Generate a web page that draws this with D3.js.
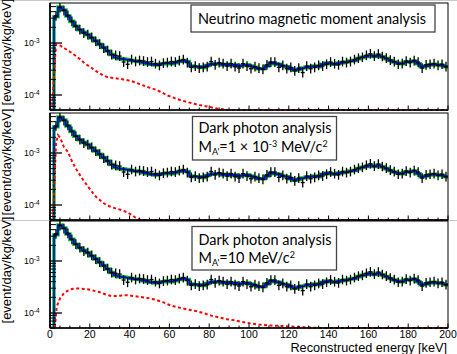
<!DOCTYPE html>
<html><head><meta charset="utf-8">
<script src="https://cdn.jsdelivr.net/npm/d3@7"></script>
<style>body{margin:0;background:#fff}svg{display:block}</style>
</head><body>
<svg id="c" width="457" height="354"></svg>
<script>
// ---------------- data (rates in units of 1e-4 event/day/kg/keV) ----------------
const binWidth = 2;
const binLow = d3.range(0, 200, binWidth);            // bin lower edges [keV]
const background = [
  0.2, 32, 49, 43, 33, 26, 21, 18, 16, 14.5,
  12.5, 11, 9.4, 8.2, 7.0, 6.0, 5.3, 5.0, 4.9, 4.8,
  4.6, 4.5, 4.4, 4.2, 4.0, 3.9, 3.8, 3.9, 4.0, 4.1,
  4.0, 4.2, 4.4, 4.6, 4.4, 3.6, 3.5, 3.5, 3.4, 3.7,
  3.9, 4.0, 4.0, 3.8, 3.9, 3.7, 3.8, 3.6, 3.7, 3.8,
  3.6, 3.4, 3.2, 3.2, 3.6, 4.1, 4.0, 3.9, 3.6, 3.5,
  3.2, 3.0, 3.1, 3.3, 3.4, 3.5, 3.6, 3.5, 3.9, 4.1,
  4.0, 3.9, 4.1, 4.2, 4.3, 4.5, 4.6, 5.0, 5.3, 5.5,
  5.8, 5.5, 5.8, 5.4, 5.0, 4.6, 4.3, 4.1, 4.0, 4.3,
  4.4, 4.5, 4.0, 3.5, 3.6, 3.8, 3.9, 3.8, 3.7, 3.5
];
const observed = [
  0, 33, 48, 42, 34, 26, 21, 18, 15.5, 14.5,
  12.8, 10.8, 9.5, 8.0, 7.1, 6.0, 5.8, 5.6, 4.3, 3.9,
  4.8, 4.4, 4.6, 4.5, 4.3, 4.4, 4.0, 3.7, 4.1, 4.2,
  4.4, 4.3, 4.6, 4.8, 4.2, 3.4, 3.6, 3.3, 3.4, 3.5,
  4.4, 3.8, 4.2, 4.0, 3.6, 4.0, 3.5, 3.3, 4.0, 3.6,
  3.2, 3.5, 3.3, 3.1, 3.8, 4.3, 4.3, 3.4, 3.7, 3.2,
  3.4, 2.9, 3.3, 2.7, 3.6, 3.2, 3.4, 3.7, 3.6, 3.9,
  4.3, 4.0, 3.8, 4.4, 4.2, 4.4, 4.8, 5.1, 5.3, 5.8,
  6.2, 5.6, 6.1, 5.5, 5.1, 4.7, 4.4, 3.9, 4.0, 4.5,
  4.2, 4.6, 4.3, 3.3, 3.8, 3.9, 4.0, 3.7, 3.9, 3.5
];
const relError = 0.24;

// signal curves (energy keV, rate 1e-4)
const sigMuE = [1, 3, 5, 7, 9, 11, 13, 15, 17, 19, 21, 23, 25, 27, 29, 31, 33, 35, 37, 39, 41, 43, 45, 47, 49, 51, 53, 55, 57, 59, 61, 63, 65, 67, 69, 71, 73, 75, 77, 79, 81, 83, 85, 87, 89, 91, 200];
const sigMuV = [0.3, 9.4, 9.0, 8.0, 7.2, 6.4, 5.6, 4.9, 4.2, 3.7, 3.3, 2.9, 2.6, 2.35, 2.2, 2.15, 2.1, 2.05, 1.98, 1.92, 1.85, 1.73, 1.62, 1.52, 1.42, 1.35, 1.27, 1.18, 1.08, 0.98, 0.92, 0.86, 0.81, 0.77, 0.73, 0.70, 0.67, 0.64, 0.62, 0.60, 0.58, 0.56, 0.54, 0.53, 0.52, 0.3, 0.3];
const sigDp1E = [1.5, 3, 4, 5, 7, 9, 11, 13, 15, 17, 19, 21, 23, 25, 27, 29, 31, 33, 35, 37, 39, 41, 43, 45, 47, 200];
const sigDp1V = [0.3, 15, 22, 20, 13, 10.5, 7.0, 5.0, 3.8, 2.9, 2.3, 1.8, 1.45, 1.25, 1.08, 0.97, 0.91, 0.86, 0.82, 0.77, 0.72, 0.65, 0.57, 0.52, 0.3, 0.3];
const sigDp2E = [2.4, 3.4, 5, 7, 9, 11, 13, 15, 17, 19, 21, 23, 25, 27, 29, 31, 33, 35, 37, 39, 41, 43, 45, 49, 53, 57, 61, 65, 69, 73, 77, 81, 85, 89, 93, 97, 101, 105, 109, 113, 117, 121, 125, 129, 133, 137, 200];
const sigDp2V = [0.3, 1.34, 1.9, 2.4, 2.7, 2.9, 2.95, 2.95, 2.9, 2.85, 2.75, 2.62, 2.5, 2.35, 2.2, 2.12, 2.12, 2.15, 2.2, 2.2, 2.15, 2.1, 2.05, 1.95, 1.8, 1.6, 1.38, 1.27, 1.17, 1.1, 1.0, 0.89, 0.82, 0.76, 0.72, 0.67, 0.63, 0.6, 0.58, 0.57, 0.56, 0.55, 0.54, 0.53, 0.52, 0.3, 0.3];

const xTicks = [0, 20, 40, 60, 80, 100, 120, 140, 160, 180, 200];
const yMajorTicks = [1e-3, 1e-4];
const yMajorLabels = [["10", "-3"], ["10", "-4"]];

// ---------------- layout ----------------
const svg = d3.select("#c");
const left = 50, right = 448, panelH = 107;
const yMin = 5.15e-5, yMax = 5.87e-3;
const x = d3.scaleLinear().domain([0, 200]).range([left, right]);
const panels = [
  {top: 3,   sigE: sigMuE,  sigV: sigMuV,  box: {x: 191, y: 5, w: 244, h: 27}},
  {top: 113, sigE: sigDp1E, sigV: sigDp1V, box: {x: 192.5, y: 116.5, w: 144, h: 43.5}},
  {top: 221, sigE: sigDp2E, sigV: sigDp2V, box: {x: 192, y: 226.5, w: 144.5, h: 43.5}}
];

// faint pad borders
[0.5, 220.5].forEach(yy => svg.append("line").attr("x1", 0).attr("x2", 457).attr("y1", yy).attr("y2", yy)
  .attr("stroke", "#c8c8c8").attr("stroke-width", 1));

const AX = "'Liberation Sans', Arial, sans-serif";
const BOXF = "Lato, 'Open Sans', sans-serif";

panels.forEach((p, pi) => {
  const y = d3.scaleLog().domain([yMin, yMax]).range([p.top + panelH, p.top]);
  const yc = v => y(Math.max(yMin, Math.min(yMax, v)));
  const g = svg.append("g");
  const clipId = "clip" + pi;
  g.append("clipPath").attr("id", clipId).append("rect")
    .attr("x", left).attr("y", p.top - 1).attr("width", right - left).attr("height", panelH + 2);

  // histogram step points
  const stepPts = binLow.map((e, i) => [e, background[i] * 1e-4]);
  stepPts.push([200, background[background.length - 1] * 1e-4]);
  const stepLine = d3.line().x(d => x(d[0])).y(d => yc(d[1])).curve(d3.curveStepAfter);
  const plot = g.append("g").attr("clip-path", `url(#${clipId})`);
  plot.append("path").attr("d", stepLine(stepPts)).attr("fill", "none")
    .attr("stroke", "#00e000").attr("stroke-width", 3.6);
  plot.append("path").attr("d", stepLine(stepPts)).attr("fill", "none")
    .attr("stroke", "#0000ff").attr("stroke-width", 1.8);

  // data points with error bars
  const pts = binLow.map((e, i) => ({e: e + binWidth / 2, v: observed[i] * 1e-4})).filter(d => d.v > yMin);
  const pg = plot.append("g").attr("stroke", "#000").attr("stroke-width", 1.3);
  pts.forEach(d => {
    pg.append("line").attr("x1", x(d.e)).attr("x2", x(d.e))
      .attr("y1", yc(d.v * (1 + relError))).attr("y2", yc(d.v / (1 + relError)));
    pg.append("line").attr("x1", x(d.e - binWidth / 2)).attr("x2", x(d.e + binWidth / 2))
      .attr("y1", yc(d.v)).attr("y2", yc(d.v));
  });

  // signal
  const sig = p.sigE.map((e, i) => [e, p.sigV[i] * 1e-4]);
  sig.unshift([0, 0.3e-4]);
  plot.append("path").attr("d", d3.line().x(d => x(d[0])).y(d => yc(d[1]))(sig))
    .attr("fill", "none").attr("stroke", "#ff0000").attr("stroke-width", 2)
    .attr("stroke-dasharray", "3,2.5");

  // frame
  g.append("rect").attr("x", left).attr("y", p.top).attr("width", right - left).attr("height", panelH)
    .attr("fill", "none").attr("stroke", "#000").attr("stroke-width", 1);
  g.append("line").attr("x1", left).attr("x2", left).attr("y1", p.top).attr("y2", p.top + panelH)
    .attr("stroke", "#000").attr("stroke-width", 1.6);
  g.append("line").attr("x1", left).attr("x2", right).attr("y1", p.top + panelH).attr("y2", p.top + panelH)
    .attr("stroke", "#000").attr("stroke-width", 1.6);

  // x ticks (major every 20, minor every 5)
  const xb = p.top + panelH;
  d3.range(0, 201, 5).forEach(t => {
    const major = xTicks.includes(t);
    g.append("line").attr("x1", x(t)).attr("x2", x(t)).attr("y1", xb).attr("y2", xb - (major ? 4.5 : 2.5))
      .attr("stroke", "#000").attr("stroke-width", 1);
  });

  // y ticks (log)
  const minor = [];
  [1e-5, 1e-4, 1e-3].forEach(dec => { for (let k = 2; k <= 9; k++) minor.push(k * dec); });
  minor.filter(v => v >= yMin && v <= yMax).forEach(v => {
    g.append("line").attr("x1", left).attr("x2", left + 6).attr("y1", y(v)).attr("y2", y(v))
      .attr("stroke", "#000").attr("stroke-width", 1);
  });
  yMajorTicks.forEach((v, i) => {
    g.append("line").attr("x1", left).attr("x2", left + 12).attr("y1", y(v)).attr("y2", y(v))
      .attr("stroke", "#000").attr("stroke-width", 1.3);
    const t = g.append("text").attr("x", 39.5).attr("y", y(v) + 3).attr("text-anchor", "end")
      .attr("font-family", AX).attr("font-size", 8.8).attr("fill", "#000");
    t.append("tspan").text(yMajorLabels[i][0]);
    t.append("tspan").attr("font-size", 6.4).attr("dy", -3.4).text(yMajorLabels[i][1]);
  });

  // y title
  svg.append("text").attr("transform", `translate(10.5,${p.top + 49}) rotate(-90)`)
    .attr("text-anchor", "middle").attr("font-family", AX).attr("font-size", 13)
    .attr("fill", "#000").text("[event/day/kg/keV]");

  // annotation box
  g.append("rect").attr("x", p.box.x).attr("y", p.box.y).attr("width", p.box.w).attr("height", p.box.h)
    .attr("fill", "#fff").attr("stroke", "#444").attr("stroke-width", 1.3);
});

// ---------------- annotation texts ----------------
function boxText(xx, yy, size) {
  return svg.append("text").attr("x", xx).attr("y", yy).attr("font-family", BOXF)
    .attr("font-size", size).attr("fill", "#000");
}
const fs = 14.5;
const t1 = boxText(198, 23.5, fs).text("Neutrino magnetic moment analysis");
const w1 = t1.node().getComputedTextLength();
const fsAdj = fs * 228 / w1;
t1.attr("font-size", fsAdj);

boxText(198.5, 133, fsAdj).text("Dark photon analysis");
const l2 = boxText(198.5, 152, fsAdj);
l2.append("tspan").text("M");
l2.append("tspan").attr("font-size", fsAdj * 0.62).attr("dy", 3).text("A'");
l2.append("tspan").attr("dy", -3).text("=1 × 10");
l2.append("tspan").attr("font-size", fsAdj * 0.62).attr("dy", -5).text("-3");
l2.append("tspan").attr("dy", 5).text(" MeV/c");
l2.append("tspan").attr("font-size", fsAdj * 0.62).attr("dy", -5).text("2");

boxText(198.5, 244.5, fsAdj).text("Dark photon analysis");
const l3 = boxText(198.5, 263, fsAdj);
l3.append("tspan").text("M");
l3.append("tspan").attr("font-size", fsAdj * 0.62).attr("dy", 3).text("A'");
l3.append("tspan").attr("dy", -3).text("=10 MeV/c");
l3.append("tspan").attr("font-size", fsAdj * 0.62).attr("dy", -5).text("2");

// x tick labels & title (bottom panel)
xTicks.forEach(t => {
  svg.append("text").attr("x", x(t)).attr("y", 338).attr("text-anchor", "middle")
    .attr("font-family", AX).attr("font-size", 10.5).attr("fill", "#000").text(t);
});
svg.append("text").attr("x", 447).attr("y", 352).attr("text-anchor", "end")
  .attr("font-family", AX).attr("font-size", 12.7).attr("fill", "#000").text("Reconstructed energy [keV]");
</script>
</body></html>
